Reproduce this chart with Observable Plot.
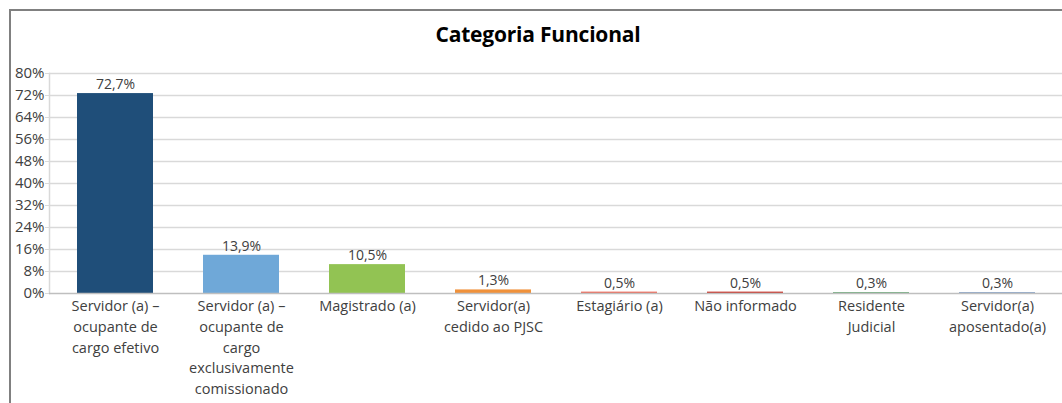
<!DOCTYPE html>
<html>
<head>
<meta charset="utf-8">
<script src="https://cdn.jsdelivr.net/npm/d3@7"></script>
<script src="https://cdn.jsdelivr.net/npm/@observablehq/plot@0.6"></script>
<style>
  html, body { margin: 0; padding: 0; background: #fff; overflow: hidden; }
  #wrap { position: relative; width: 1062px; height: 403px; font-family: "Open Sans", "Noto Sans", sans-serif; }
  #box { position: absolute; left: 9px; top: 9px; width: 1070px; height: 420px; border-left: 2px solid #808080; border-top: 2px solid #808080; }
  #title { position: absolute; left: 0; width: 1076px; top: 20px; text-align: center; font-size: 21px; font-weight: 700; color: #000; letter-spacing: -0.2px; }
  #chart { position: absolute; left: 0; top: 0; }
</style>
</head>
<body>
<div id="wrap">
  <div id="box"></div>
  <div id="chart"></div>
  <div id="title">Categoria Funcional</div>
</div>
<script>
const categories = [
  "Servidor (a) – ocupante de cargo efetivo",
  "Servidor (a) – ocupante de cargo exclusivamente comissionado",
  "Magistrado (a)",
  "Servidor(a) cedido ao PJSC",
  "Estagiário (a)",
  "Não informado",
  "Residente Judicial",
  "Servidor(a) aposentado(a)"
];
const tickLabels = [
  "Servidor (a) –\nocupante de\ncargo efetivo",
  "Servidor (a) –\nocupante de\ncargo\nexclusivamente\ncomissionado",
  "Magistrado (a)",
  "Servidor(a)\ncedido ao PJSC",
  "Estagiário (a)",
  "Não informado",
  "Residente\nJudicial",
  "Servidor(a)\naposentado(a)"
];
const values = [72.7, 13.9, 10.5, 1.3, 0.5, 0.5, 0.3, 0.3];
const colors = ["#1F4E79", "#6FA8D8", "#92C353", "#F0913A", "#EE6A5A", "#C9372C", "#5DA06A", "#7A98C0"];
const yTicks = [0, 8, 16, 24, 32, 40, 48, 56, 64, 72, 80];

const data = categories.map((c, i) => ({cat: c, value: values[i], color: colors[i]}));
const labelOf = new Map(categories.map((c, i) => [c, tickLabels[i]]));
const fmt = v => v.toFixed(1).replace(".", ",") + "%";

const chart = Plot.plot({
  width: 1062,
  height: 403,
  marginTop: 73,
  marginBottom: 110,
  marginLeft: 49,
  marginRight: 0,
  style: {fontFamily: "'Open Sans', 'Noto Sans', sans-serif", background: "transparent", color: "#404040"},
  x: {domain: categories, paddingInner: 0.4, paddingOuter: 0.2, label: null},
  y: {domain: [0, 80], label: null},
  marks: [
    Plot.ruleY(yTicks.filter(d => d > 0), {stroke: "#d9d9d9", strokeWidth: 1.5}),
    Plot.frame({anchor: "left", stroke: "#d9d9d9", strokeWidth: 1.5}),
    Plot.barY(data, {x: "cat", y: "value", fill: "color"}),
    Plot.ruleY([0], {stroke: "#bfbfbf", strokeWidth: 1.5}),
    Plot.text(data, {x: "cat", y: "value", text: d => fmt(d.value), dy: -9, fontSize: 14, fill: "#404040"}),
    Plot.axisY({ticks: yTicks, tickFormat: d => d + "%", tickSize: 4, tickPadding: 1, fontSize: 15, stroke: "#d9d9d9", fill: "#404040"}),
    Plot.axisX({tickFormat: d => labelOf.get(d), tickSize: 0, tickPadding: 3, fontSize: 14.5, lineHeight: 1.43, fill: "#404040"})
  ]
});
document.getElementById("chart").appendChild(chart);
</script>
</body>
</html>
